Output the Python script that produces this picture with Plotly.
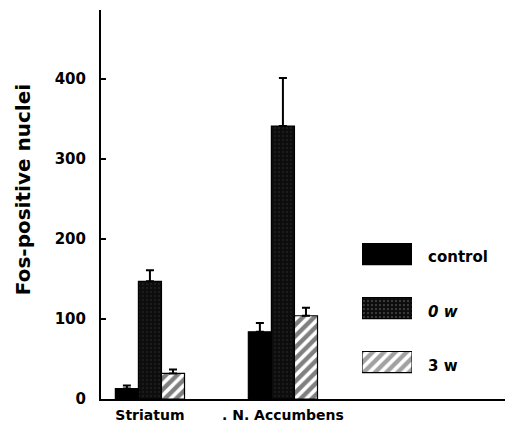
import plotly.graph_objects as go

regions = ["Striatum", ". N. Accumbens"]
series = ["control", "0 w", "3 w"]
values = {
    "control": [13, 84],
    "0 w": [147, 341],
    "3 w": [32, 104],
}
errors = {
    "control": [4, 11],
    "0 w": [14, 60],
    "3 w": [5, 10],
}
y_ticks = [0, 100, 200, 300, 400]

styles = {
    "control": dict(color="#000000", pattern=dict(shape="")),
    "0 w": dict(color="#0d0d0d", pattern=dict(shape=".", fgcolor="#555555", bgcolor="#0d0d0d", size=4, solidity=0.1)),
    "3 w": dict(color="#ffffff", pattern=dict(shape="/", fgcolor="#000000", bgcolor="#ffffff", size=8, solidity=0.55)),
}

FONT = "DejaVu Sans"
W = "bold"
fig = go.Figure()

for s in series:
    st = styles[s]
    fig.add_trace(go.Bar(
        x=[0, 1], y=values[s], name=s, showlegend=False,
        marker=dict(color=st["color"], pattern=st["pattern"], line=dict(color="black", width=1.2)),
        error_y=dict(type="data", symmetric=False, array=errors[s], arrayminus=[0, 0],
                     color="black", thickness=2, width=4),
    ))

# legend swatches drawn as bars on a small auxiliary axis
fig.add_trace(go.Bar(
    x=[1, 1, 1], y=[0, 1, 2], orientation="h", width=0.39, showlegend=False,
    xaxis="x2", yaxis="y2",
    marker=dict(
        color=[styles[s]["color"] for s in series],
        pattern=dict(
            shape=["", ".", "/"],
            fgcolor=["#000000", "#555555", "#000000"],
            bgcolor=["#000000", "#0d0d0d", "#ffffff"],
            size=[4, 4, 8],
            solidity=[0.3, 0.1, 0.55],
        ),
        line=dict(color="black", width=1.2),
    ),
))

ymax = 486
fig.update_layout(
    width=505, height=435,
    margin=dict(l=101, r=0, t=10, b=36),
    paper_bgcolor="white", plot_bgcolor="white",
    barmode="group", bargap=0.48, bargroupgap=0,
    font=dict(family=FONT, color="black"),
    xaxis=dict(
        range=[-0.368, 2.67], tickvals=[0, 1], ticktext=regions,
        showline=True, linecolor="black", linewidth=2, ticks="",
        showgrid=False, zeroline=False,
        tickfont=dict(family=FONT, size=14, color="black", weight=W),
        ticklabelstandoff=2,
    ),
    yaxis=dict(
        range=[0, ymax], tickvals=y_ticks,
        showline=True, linecolor="black", linewidth=2,
        ticks="inside", ticklen=5, tickwidth=1.5, tickcolor="black",
        showgrid=False, zeroline=False,
        tickfont=dict(family=FONT, size=15, color="black", weight=W),
        ticklabelstandoff=10,
    ),
    xaxis2=dict(domain=[0.646, 0.770], range=[0, 1], visible=False, anchor="y2"),
    yaxis2=dict(domain=[0.0257, 0.442], range=[2.5, -0.5], visible=False, anchor="x2"),
    annotations=[
        dict(text="Fos-positive nuclei", textangle=-90, xref="paper", yref="paper",
             x=-0.193, y=0.537, showarrow=False, xanchor="center", yanchor="middle",
             font=dict(family=FONT, size=20, color="black", weight=W)),
        dict(text="control", xref="paper", yref="paper", x=(426 - 101) / 404, y=(399 - 257) / 389,
             showarrow=False, xanchor="left", yanchor="middle",
             font=dict(family=FONT, size=15, color="black", weight=W)),
        dict(text="0 w", xref="paper", yref="paper", x=(426 - 101) / 404, y=(399 - 312) / 389,
             showarrow=False, xanchor="left", yanchor="middle",
             font=dict(family=FONT, size=15, color="black", weight=W, style="italic")),
        dict(text="3 w", xref="paper", yref="paper", x=(426 - 101) / 404, y=(399 - 366) / 389,
             showarrow=False, xanchor="left", yanchor="middle",
             font=dict(family=FONT, size=15, color="black", weight=W)),
    ],
)

fig.write_html("out.html")
